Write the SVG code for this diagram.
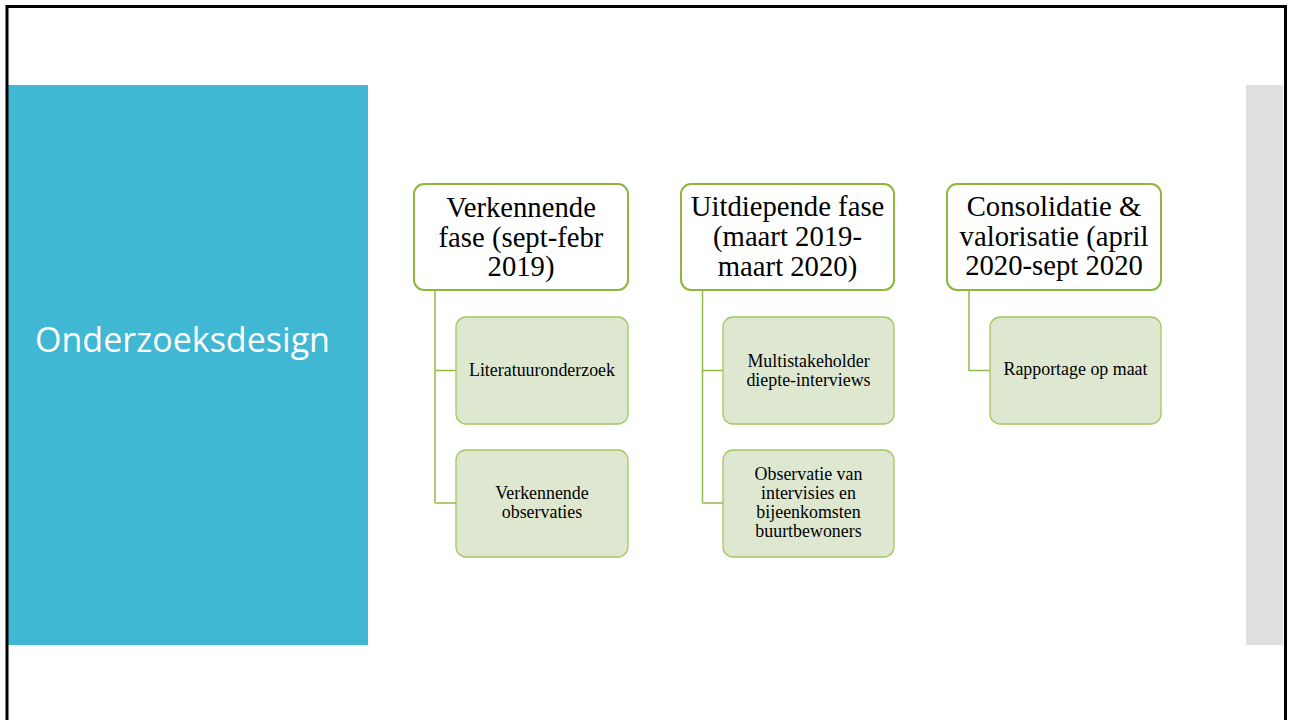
<svg xmlns="http://www.w3.org/2000/svg" width="1293" height="720" viewBox="0 0 1293 720">
<style>
.hdr{fill:#ffffff;stroke:#8DB73B;stroke-width:2}
.child{fill:#DEE8D0;stroke:#A4C65E;stroke-width:1.3}
.conn{fill:none;stroke:#93BA48;stroke-width:1.5}
.ht{font-family:"Liberation Serif","Times New Roman",serif;font-size:28.7px;fill:#000;text-anchor:middle}
.ct{font-family:"Liberation Serif","Times New Roman",serif;font-size:17.9px;fill:#000;text-anchor:middle}
.title{font-family:"Open Sans","Noto Sans",sans-serif;font-size:35px;fill:#fff}
</style>
<rect x="0" y="0" width="1293" height="720" fill="#ffffff"/>
<g id="background">
<rect x="8" y="85" width="360" height="560" fill="#41B8D3"/>
<rect x="1246" y="85" width="37" height="560" fill="#E0E0E0"/>
<path d="M7,721 V6.5 H1285.5 V721" fill="none" stroke="#000" stroke-width="3"/>
</g>
<g id="title">
<text class="title" x="35" y="352" textLength="295" lengthAdjust="spacingAndGlyphs">Onderzoeksdesign</text>
</g>
<g id="connectors">
<path class="conn" d="M435,290 V503 M435,370.5 H456 M435,503 H456"/>
<path class="conn" d="M702.5,290 V503 M702.5,370.5 H723 M702.5,503 H723"/>
<path class="conn" d="M969,290 V370.5 H990"/>
</g>
<g id="phase1">
<rect class="hdr" x="414" y="184" width="214" height="106" rx="10"/>
<text class="ht" x="521" y="217">Verkennende</text>
<text class="ht" x="521" y="246.5">fase (sept-febr</text>
<text class="ht" x="521" y="276">2019)</text>
</g>
<g id="literatuur">
<rect class="child" x="456" y="317" width="172" height="107" rx="10"/>
<text class="ct" x="542" y="376">Literatuuronderzoek</text>
</g>
<g id="verkennende-observaties">
<rect class="child" x="456" y="450" width="172" height="107" rx="10"/>
<text class="ct" x="542" y="499">Verkennende</text>
<text class="ct" x="542" y="518">observaties</text>
</g>
<g id="phase2">
<rect class="hdr" x="681" y="184" width="213" height="106" rx="10"/>
<text class="ht" x="787.5" y="216">Uitdiepende fase</text>
<text class="ht" x="787.5" y="246">(maart 2019-</text>
<text class="ht" x="787.5" y="275.5">maart 2020)</text>
</g>
<g id="multistakeholder">
<rect class="child" x="723" y="317" width="171" height="107" rx="10"/>
<text class="ct" x="808.5" y="367">Multistakeholder</text>
<text class="ct" x="808.5" y="386">diepte-interviews</text>
</g>
<g id="observatie">
<rect class="child" x="723" y="450" width="171" height="107" rx="10"/>
<text class="ct" x="808.5" y="480">Observatie van</text>
<text class="ct" x="808.5" y="499">intervisies en</text>
<text class="ct" x="808.5" y="518">bijeenkomsten</text>
<text class="ct" x="808.5" y="537">buurtbewoners</text>
</g>
<g id="phase3">
<rect class="hdr" x="947" y="184" width="214" height="106" rx="10"/>
<text class="ht" x="1054" y="216">Consolidatie &amp;</text>
<text class="ht" x="1054" y="245.5">valorisatie (april</text>
<text class="ht" x="1054" y="275">2020-sept 2020</text>
</g>
<g id="rapportage">
<rect class="child" x="990" y="317" width="171" height="107" rx="10"/>
<text class="ct" x="1075.5" y="375">Rapportage op maat</text>
</g>
</svg>
